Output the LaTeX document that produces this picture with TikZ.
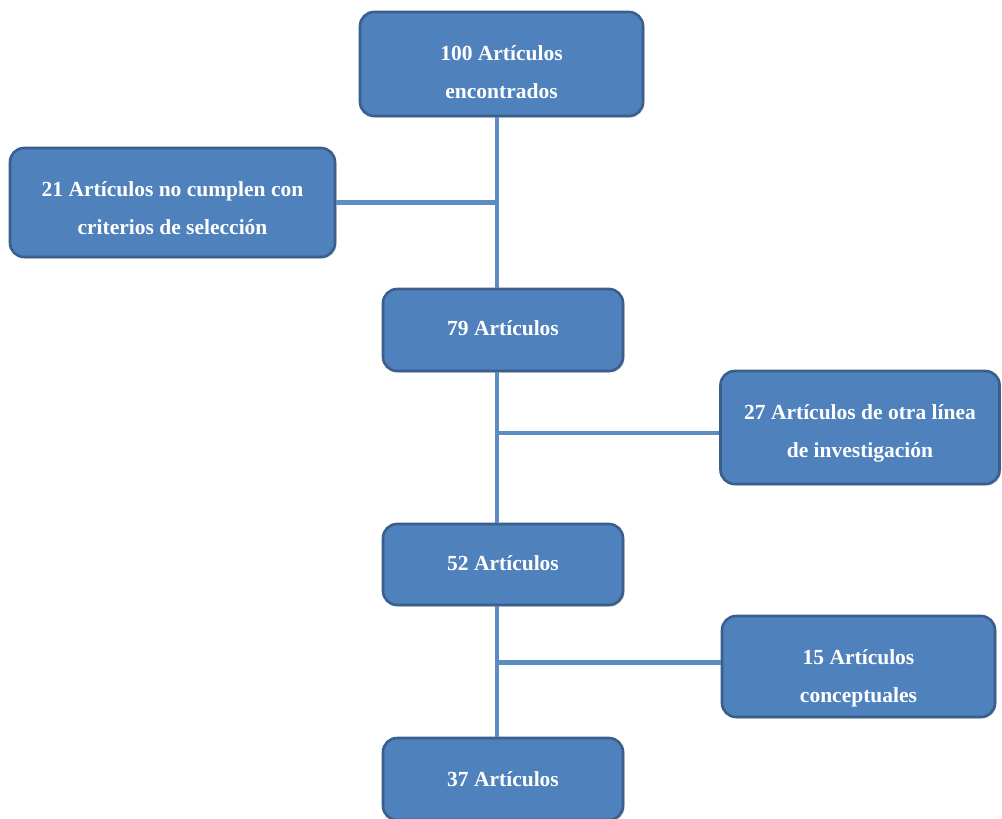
\documentclass[tikz,border=0pt]{standalone}
\usepackage{fontspec}
\setmainfont{Liberation Serif}
\usetikzlibrary{shadows}
\definecolor{boxfill}{HTML}{4F81BD}
\definecolor{boxline}{HTML}{3A5F8C}
\definecolor{conn}{HTML}{5B8CC2}
\tikzset{
  box/.style={draw=boxline, line width=2.6pt, fill=boxfill, rounded corners=14pt,
    minimum width=#1, inner sep=0pt,
    drop shadow={shadow xshift=1.5pt, shadow yshift=-1.5pt, opacity=0.35}},
  lab/.style={align=center, text=white, inner sep=0pt,
    font=\fontsize{21.5pt}{38pt}\selectfont\bfseries},
  conn/.style={draw=conn, line width=4.5pt}
}
\begin{document}
\begin{tikzpicture}[x=1pt,y=1pt]
\useasboundingbox (0,0) rectangle (1002,-819);
\clip (0,0) rectangle (1002,-819);
\node[box=283pt, minimum height=104pt,
  label={[lab, yshift=-8pt]center:100 Artículos\\encontrados}] (top) at (501.5,-64) {};
\node[box=325pt, minimum height=109pt,
  label={[lab, yshift=-5.5pt]center:21 Artículos no cumplen con\\criterios de selección}] (left) at (172.5,-202.5) {};
\node[box=240pt, minimum height=82pt,
  label={[lab, yshift=1.5pt]center:79 Artículos}] (n79) at (503,-330) {};
\node[box=279pt, minimum height=113pt,
  label={[lab, yshift=-6pt]center:27 Artículos de otra línea\\de investigación}] (n27) at (860,-427.5) {};
\node[box=240pt, minimum height=81pt,
  label={[lab, yshift=1pt]center:52 Artículos}] (n52) at (503,-564.5) {};
\node[box=273pt, minimum height=101pt,
  label={[lab, yshift=-12pt]center:15 Artículos\\conceptuales}] (n15) at (858.5,-666.5) {};
\node[box=240pt, minimum height=82pt,
  label={[lab]center:37 Artículos}] (n37) at (503,-779) {};
\coordinate (spine) at (497,0);
\draw[conn] (top.south -| spine) -- (n79.north -| spine);
\draw[conn] (n79.south -| spine) -- (n52.north -| spine);
\draw[conn] (n52.south -| spine) -- (n37.north -| spine);
\draw[conn] (left.east) -- (left.east -| spine);
\draw[conn] ([yshift=-5.5pt]n27.west) -- ([yshift=-5.5pt]n27.west -| spine);
\draw[conn] ([yshift=4pt]n15.west) -- ([yshift=4pt]n15.west -| spine);
\end{tikzpicture}
\end{document}
